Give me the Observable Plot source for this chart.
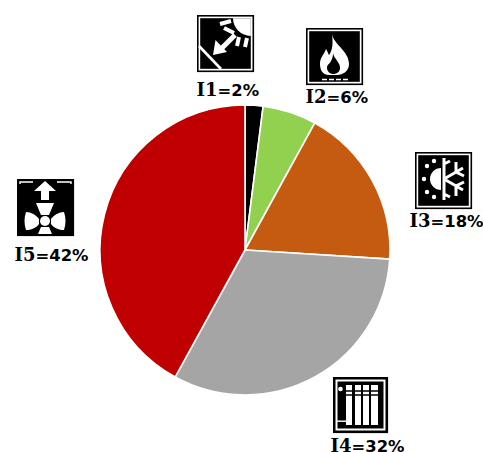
<!DOCTYPE html>
<html><head><meta charset="utf-8">
<script src="https://cdn.jsdelivr.net/npm/d3@7"></script>
<script src="https://cdn.jsdelivr.net/npm/@observablehq/plot@0.6"></script>
<style>html,body{margin:0;padding:0;background:#fff}svg{display:block}</style>
</head><body><div id="chart"></div>
<script>
const names = ["I1","I2","I3","I4","I5"];
const shares = [2,6,18,32,42];
const colors = ["#000000","#92D050","#C55A11","#A5A5A5","#C00000"];
const pieCenter = [245,250], pieRadius = 145;
const labelSplit = [217,326,430,351,35];
const labelBase = [95,102,226,451,260];
const iconLeft = [197,306,415,333,17];
const iconTop = [15,28,152,377,179];

const frame = (extra="") => `<rect x="0.8" y="0.8" width="55.5" height="55.5" fill="#fff" stroke="#000" stroke-width="1.6"/><rect x="3.2" y="3.2" width="50.6" height="50.6" fill="#000"/>${extra}`;
const iconArt = [
  frame(`<path d="M36 3.2H53.8V21A18 18 0 0 1 36 3.2Z" fill="#fff"/>
   <g stroke="#fff" stroke-width="4" fill="none"><path d="M23 9L34 6M27 13L37 18M42 22L40 31M50 23L48 32"/>
   <path d="M38 20L22 36" stroke-width="5"/></g>
   <path d="M16 40L18.5 25L30 37Z" fill="#fff"/>
   <path d="M2 31L24 54" stroke="#fff" stroke-width="2.6"/>`),
  frame(`<path d="M26 6C28 17 43 23 43 36C43 43 37 47 31 47H23C16 47 14 41 14 36C14 29 18 27 20 21C22 24 22 26 23 27C27 22 27 14 26 6Z" fill="#fff"/>
   <path d="M27 25C28 31 35 35 34 41C33 45 30 46 27 46C24 46 21 43 21 40C21 36 24 36 25 33C26 31 27 29 27 25Z" fill="#000"/>
   <path d="M16 51.5H44" stroke="#fff" stroke-width="1.6" stroke-dasharray="5 2"/>`),
  frame(`<path d="M26 16A11 11 0 0 0 26 38Z" fill="#fff"/>
   <g fill="#fff"><circle cx="9" cy="27" r="2.2"/><circle cx="12" cy="14" r="2.2"/><circle cx="19" cy="9" r="2.2"/><circle cx="12" cy="40" r="2.2"/><circle cx="19" cy="45" r="2.2"/></g>
   <g stroke="#fff" stroke-width="3" fill="none"><path d="M29 6V48M29 27L48 16M29 27L48 38M29 12L35 9M29 42L35 45M41 10L41 20L49 24M41 44L41 34L49 30"/></g>`),
  `<rect x="0.8" y="0.8" width="53.5" height="54.5" fill="#000" stroke="#000" stroke-width="1.6"/><rect x="2.5" y="2.5" width="50" height="51" fill="#fff"/><rect x="4.5" y="4.5" width="46" height="47" fill="#000"/>
   <g fill="#fff"><rect x="13" y="8" width="6" height="40"/><rect x="22" y="8" width="6" height="40"/><rect x="30" y="8" width="6" height="40"/><rect x="38" y="8" width="7" height="40"/>
   <circle cx="7.5" cy="12" r="2.3"/><rect x="4" y="43.5" width="10" height="1.4"/></g>
   <path d="M11 14H47M11 18H47" stroke="#000" stroke-width="1.5"/>`,
  `<rect x="0.8" y="0.8" width="55.5" height="55.5" fill="#000" stroke="#000" stroke-width="1.6"/>
   <path d="M3 5V3H16M40 3H54V5" stroke="#fff" stroke-width="1.4" fill="none"/>
   <path d="M28 2L39 12H32V21H24V12H17Z" fill="#fff"/>
   <g fill="#fff"><path d="M19 24H37L32 36H24Z"/><path d="M9 33C14 33 19 36 22 40V45C19 49 14 51 9 51C7 45 7 39 9 33Z"/><path d="M47 33C42 33 37 36 34 40V45C37 49 42 51 47 51C49 45 49 39 47 33Z"/><path d="M24 48H32L35 55H21Z"/><circle cx="28" cy="42" r="5"/></g>`
];

const pie = (index, scales, values) => {
  const [cx, cy] = pieCenter;
  const arc = d3.arc().innerRadius(0).outerRadius(pieRadius);
  const g = d3.create("svg:g").attr("transform", `translate(${cx},${cy})`);
  for (const i of index) {
    g.append("path")
      .attr("d", arc({startAngle: values.x1[i], endAngle: values.x2[i]}))
      .attr("fill", values.fill[i])
      .attr("stroke", "#fff").attr("stroke-width", 1.6).attr("stroke-linejoin","round");
  }
  return g.node();
};

const icons = () => {
  const g = d3.create("svg:g");
  iconArt.forEach((art, i) => {
    g.append("g").attr("transform", `translate(${iconLeft[i]},${iconTop[i]})`).html(art);
  });
  return g.node();
};

const table = names.map((name, i) => ({name, share: shares[i]}));
const labelMarks = names.flatMap((name, i) => [
  Plot.text([name], {frameAnchor:"top-left", dx: labelSplit[i], dy: labelBase[i], text: d=>d,
    textAnchor:"end", lineAnchor:"bottom", fontFamily:"DejaVu Serif", fontWeight:700, fontSize:18, fill:"#000"}),
  Plot.text([`=${shares[i]}%`], {frameAnchor:"top-left", dx: labelSplit[i], dy: labelBase[i], text: d=>d,
    textAnchor:"start", lineAnchor:"bottom", fontFamily:"DejaVu Sans", fontWeight:700, fontSize:16.4, fill:"#000"})
]);

const chart = Plot.plot({
  width: 483, height: 452,
  margin: 0,
  style: {background:"#fff"},
  x: {domain:[0,100], range:[0,2*Math.PI], axis:null},
  y: {axis:null},
  color: {domain:names, range:colors},
  marks: [
    Plot.barX(table, Plot.stackX({x:"share", fill:"name", order:null, render: pie})),
    icons,
    ...labelMarks
  ]
});
document.getElementById("chart").append(chart);
</script></body></html>
